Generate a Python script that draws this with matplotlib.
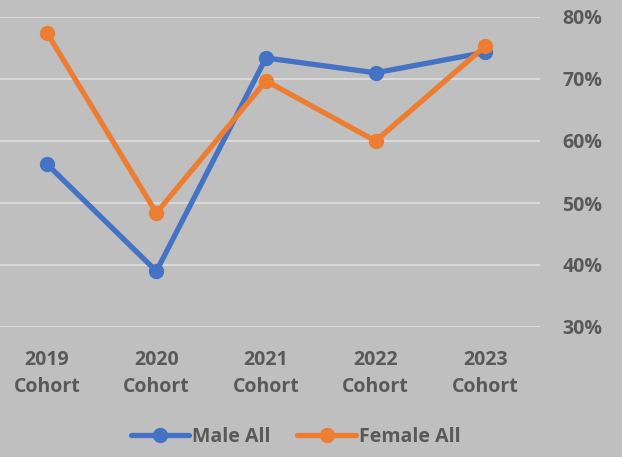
import matplotlib
matplotlib.use('Agg')
from matplotlib import pyplot as plt
from matplotlib.ticker import FuncFormatter

cohorts = ['2019\nCohort', '2020\nCohort', '2021\nCohort', '2022\nCohort', '2023\nCohort']
male_all = [56.3, 39.0, 73.4, 71.0, 74.3]
female_all = [77.5, 48.4, 69.7, 60.0, 75.3]
y_ticks = [30, 40, 50, 60, 70, 80]

bg = '#bfbfbf'
txt = '#595959'
plt.rcParams['font.family'] = ['Open Sans', 'DejaVu Sans']
plt.rcParams['font.weight'] = 'bold'

fig = plt.figure(figsize=(6.22, 4.57), dpi=100, facecolor=bg)
ax = fig.add_axes([-8/622, 130/457, 548/622, 310/457], facecolor=bg)

x = range(len(cohorts))
ax.plot(x, male_all, color='#4472c4', lw=3.8, marker='o', ms=10, label='Male All',
        solid_capstyle='round', zorder=3)
ax.plot(x, female_all, color='#ed7d31', lw=3.8, marker='o', ms=10, label='Female All',
        solid_capstyle='round', zorder=4)

ax.set_xlim(-0.5, 4.5)
ax.set_ylim(30, 80)
ax.set_yticks(y_ticks)
ax.yaxis.set_major_formatter(FuncFormatter(lambda v, p: '%d%%' % v))
ax.yaxis.tick_right()
ax.set_xticks(list(x))
ax.set_xticklabels(cohorts, linespacing=1.5)
ax.tick_params(axis='y', length=0, pad=16, labelsize=14, labelcolor=txt)
ax.tick_params(axis='x', length=0, pad=16.5, labelsize=14, labelcolor=txt)
for lab in ax.get_yticklabels() + ax.get_xticklabels():
    lab.set_fontweight('bold')

ax.grid(axis='y', color='#d9d9d9', lw=1.5, zorder=0)
ax.set_axisbelow(True)
for s in ax.spines.values():
    s.set_visible(False)

leg = fig.legend(loc='center', bbox_to_anchor=(0.475, 1 - 437/457), ncol=2, frameon=False,
                 fontsize=14, handlelength=3.0, handletextpad=0.15, columnspacing=1.4,
                 labelcolor=txt)
for t in leg.get_texts():
    t.set_fontweight('bold')

plt.savefig('out.png', dpi=100, facecolor=bg)
